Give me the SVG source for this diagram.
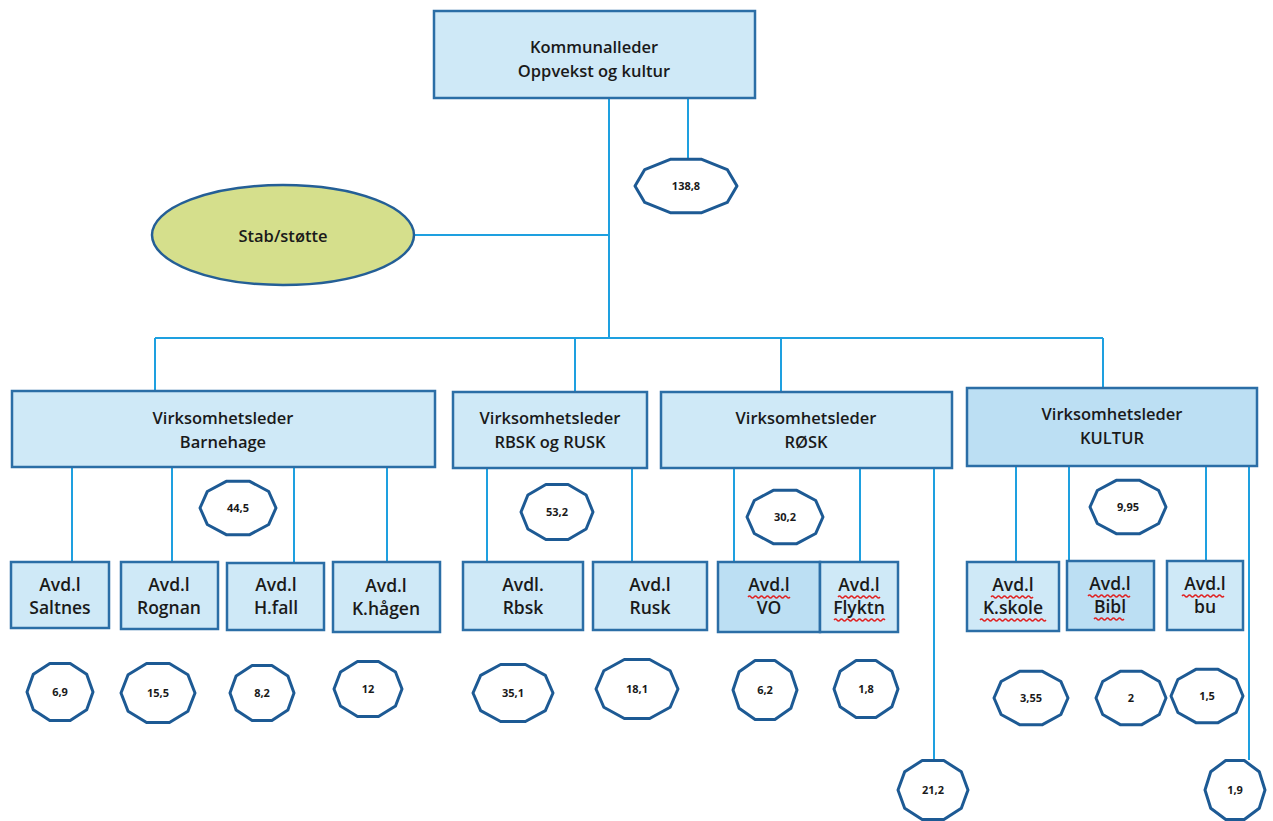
<svg xmlns="http://www.w3.org/2000/svg" xmlns:xlink="http://www.w3.org/1999/xlink" width="1273" height="821" viewBox="0 0 1273 821">
  <style>
    .box { fill: #cfe9f7; stroke: #2b6ea6; stroke-width: 2.5; }
    .box.dark { fill: #bcdff3; }
    .lbl { font-family: "Open Sans", "Liberation Sans", Arial, sans-serif; font-size: 16.5px; font-weight: 600; fill: #1a1a1a; text-anchor: middle; }
    .sub { font-size: 17.5px; }
    .num { font-family: "Open Sans", "Liberation Sans", Arial, sans-serif; font-size: 11px; font-weight: 700; fill: #1a1a1a; text-anchor: middle; }
    .wire { stroke: #1ea0e0; stroke-width: 2; fill: none; }
    .deca { fill: #ffffff; stroke: #1d5a94; stroke-width: 3; vector-effect: non-scaling-stroke; stroke-linejoin: round; }
    .squig { stroke: #e02020; stroke-width: 1.3; fill: none; }
  </style>
  <defs>
    <!-- unit decagon, flat top and bottom, pointed left and right -->
    <polygon id="dec" class="deca" points="1,0 0.809,0.588 0.309,0.951 -0.309,0.951 -0.809,0.588 -1,0 -0.809,-0.588 -0.309,-0.951 0.309,-0.951 0.809,-0.588"/>
  </defs>
  <rect width="1273" height="821" fill="#ffffff"/>

  <!-- connectors -->
  <g id="connectors">
    <path class="wire" d="M609,98 V338"/>
    <path class="wire" d="M688,98 V158"/>
    <path class="wire" d="M414,235 H609"/>
    <path class="wire" d="M155,338 H1103"/>
    <path class="wire" d="M155,338 V391 M575,338 V391 M781,338 V391 M1103,338 V388"/>
    <path class="wire" d="M72,467 V562 M172,467 V562 M294,467 V563 M387,467 V562"/>
    <path class="wire" d="M487,468 V562 M632,468 V562"/>
    <path class="wire" d="M734,468 V562 M860,468 V562 M934,468 V760"/>
    <path class="wire" d="M1016,466 V562 M1069,466 V561 M1206,466 V561 M1249,466 V760"/>
  </g>

  <!-- top manager -->
  <g id="kommunalleder">
    <rect class="box" x="434" y="11" width="321" height="87"/>
    <text class="lbl" x="594" y="53">Kommunalleder</text>
    <text class="lbl" x="594" y="77">Oppvekst og kultur</text>
  </g>
  <g id="n-138">
    <use xlink:href="#dec" transform="translate(686,186) scale(51,28)"/>
    <text class="num" x="686" y="190">138,8</text>
  </g>

  <!-- staff -->
  <g id="stab">
    <ellipse cx="283" cy="235" rx="131" ry="50" fill="#d5df8c" stroke="#245f96" stroke-width="2.5"/>
    <text class="lbl" x="283" y="242" font-size="18">Stab/støtte</text>
  </g>

  <!-- Barnehage -->
  <g id="vl-barnehage">
    <rect class="box" x="12" y="391" width="423" height="76"/>
    <text class="lbl" x="223" y="424">Virksomhetsleder</text>
    <text class="lbl" x="223" y="448">Barnehage</text>
  </g>
  <g id="n-445">
    <use xlink:href="#dec" transform="translate(238,508) scale(38,28)"/>
    <text class="num" x="238" y="512">44,5</text>
  </g>
  <g id="avd-saltnes">
    <rect class="box" x="11" y="562" width="98" height="66"/>
    <text class="lbl sub" x="60" y="591">Avd.l</text>
    <text class="lbl sub" x="60" y="614">Saltnes</text>
  </g>
  <g id="avd-rognan">
    <rect class="box" x="121" y="562" width="97" height="67"/>
    <text class="lbl sub" x="169" y="591">Avd.l</text>
    <text class="lbl sub" x="169" y="614">Rognan</text>
  </g>
  <g id="avd-hfall">
    <rect class="box" x="227" y="563" width="97" height="67"/>
    <text class="lbl sub" x="276" y="591">Avd.l</text>
    <text class="lbl sub" x="276" y="614">H.fall</text>
  </g>
  <g id="avd-khagen">
    <rect class="box" x="333" y="562" width="107" height="70"/>
    <text class="lbl sub" x="386" y="592">Avd.l</text>
    <text class="lbl sub" x="386" y="615">K.hågen</text>
  </g>
  <g id="n-69">
    <use xlink:href="#dec" transform="translate(60,692) scale(33,30)"/>
    <text class="num" x="60" y="696">6,9</text>
  </g>
  <g id="n-155">
    <use xlink:href="#dec" transform="translate(158,693) scale(37,31)"/>
    <text class="num" x="158" y="697">15,5</text>
  </g>
  <g id="n-82">
    <use xlink:href="#dec" transform="translate(262,693) scale(32,29)"/>
    <text class="num" x="262" y="697">8,2</text>
  </g>
  <g id="n-12">
    <use xlink:href="#dec" transform="translate(368,689) scale(34,29)"/>
    <text class="num" x="368" y="693">12</text>
  </g>

  <!-- RBSK og RUSK -->
  <g id="vl-rbsk">
    <rect class="box" x="453" y="392" width="194" height="76"/>
    <text class="lbl" x="550" y="424">Virksomhetsleder</text>
    <text class="lbl" x="550" y="448">RBSK og RUSK</text>
  </g>
  <g id="n-532">
    <use xlink:href="#dec" transform="translate(557,512) scale(36,29)"/>
    <text class="num" x="557" y="516">53,2</text>
  </g>
  <g id="avd-rbsk">
    <rect class="box" x="463" y="562" width="120" height="68"/>
    <text class="lbl sub" x="523" y="591">Avdl.</text>
    <text class="lbl sub" x="523" y="614">Rbsk</text>
  </g>
  <g id="avd-rusk">
    <rect class="box" x="593" y="562" width="114" height="68"/>
    <text class="lbl sub" x="650" y="591">Avd.l</text>
    <text class="lbl sub" x="650" y="614">Rusk</text>
  </g>
  <g id="n-351">
    <use xlink:href="#dec" transform="translate(513,693) scale(40,30)"/>
    <text class="num" x="513" y="697">35,1</text>
  </g>
  <g id="n-181">
    <use xlink:href="#dec" transform="translate(637,689) scale(41,31)"/>
    <text class="num" x="637" y="693">18,1</text>
  </g>

  <!-- RØSK -->
  <g id="vl-rosk">
    <rect class="box" x="661" y="392" width="291" height="76"/>
    <text class="lbl" x="806" y="424">Virksomhetsleder</text>
    <text class="lbl" x="806" y="448">RØSK</text>
  </g>
  <g id="n-302">
    <use xlink:href="#dec" transform="translate(785,517) scale(38,28)"/>
    <text class="num" x="785" y="521">30,2</text>
  </g>
  <g id="avd-vo">
    <rect class="box dark" x="718" y="562" width="102" height="70"/>
    <text class="lbl sub" x="769" y="591">Avd.l</text>
    <text class="lbl sub" x="769" y="614">VO</text>
    <path class="squig" d="M748,597 q1.5,-2 3,0 t3,0 t3,0 t3,0 t3,0 t3,0 t3,0 t3,0 t3,0 t3,0 t3,0 t3,0 t3,0 t3,0"/>
  </g>
  <g id="avd-flyktn">
    <rect class="box" x="820" y="562" width="78" height="70"/>
    <text class="lbl sub" x="859" y="591">Avd.l</text>
    <text class="lbl sub" x="859" y="614">Flyktn</text>
    <path class="squig" d="M838,597 q1.5,-2 3,0 t3,0 t3,0 t3,0 t3,0 t3,0 t3,0 t3,0 t3,0 t3,0 t3,0 t3,0 t3,0 t3,0"/>
    <path class="squig" d="M834,620 q1.5,-2 3,0 t3,0 t3,0 t3,0 t3,0 t3,0 t3,0 t3,0 t3,0 t3,0 t3,0 t3,0 t3,0 t3,0 t3,0 t3,0 t3,0"/>
  </g>
  <g id="n-62">
    <use xlink:href="#dec" transform="translate(765,690) scale(32,31)"/>
    <text class="num" x="765" y="694">6,2</text>
  </g>
  <g id="n-18">
    <use xlink:href="#dec" transform="translate(866,689) scale(32,30)"/>
    <text class="num" x="866" y="693">1,8</text>
  </g>
  <g id="n-212">
    <use xlink:href="#dec" transform="translate(933,790) scale(35,31)"/>
    <text class="num" x="933" y="794">21,2</text>
  </g>

  <!-- KULTUR -->
  <g id="vl-kultur">
    <rect class="box dark" x="967" y="388" width="290" height="78"/>
    <text class="lbl" x="1112" y="420">Virksomhetsleder</text>
    <text class="lbl" x="1112" y="444">KULTUR</text>
  </g>
  <g id="n-995">
    <use xlink:href="#dec" transform="translate(1128,507) scale(38,28)"/>
    <text class="num" x="1128" y="511">9,95</text>
  </g>
  <g id="avd-kskole">
    <rect class="box" x="967" y="562" width="92" height="69"/>
    <text class="lbl sub" x="1013" y="591">Avd.l</text>
    <text class="lbl sub" x="1013" y="614">K.skole</text>
    <path class="squig" d="M991,597 q1.5,-2 3,0 t3,0 t3,0 t3,0 t3,0 t3,0 t3,0 t3,0 t3,0 t3,0 t3,0 t3,0 t3,0 t3,0"/>
    <path class="squig" d="M980,620 q1.5,-2 3,0 t3,0 t3,0 t3,0 t3,0 t3,0 t3,0 t3,0 t3,0 t3,0 t3,0 t3,0 t3,0 t3,0 t3,0 t3,0 t3,0 t3,0 t3,0 t3,0 t3,0 t3,0"/>
  </g>
  <g id="avd-bibl">
    <rect class="box dark" x="1067" y="561" width="87" height="69"/>
    <text class="lbl sub" x="1110" y="590">Avd.l</text>
    <text class="lbl sub" x="1110" y="613">Bibl</text>
    <path class="squig" d="M1088,596 q1.5,-2 3,0 t3,0 t3,0 t3,0 t3,0 t3,0 t3,0 t3,0 t3,0 t3,0 t3,0 t3,0 t3,0 t3,0"/>
    <path class="squig" d="M1094,619 q1.5,-2 3,0 t3,0 t3,0 t3,0 t3,0 t3,0 t3,0 t3,0 t3,0 t3,0"/>
  </g>
  <g id="avd-bu">
    <rect class="box" x="1167" y="561" width="76" height="69"/>
    <text class="lbl sub" x="1205" y="590">Avd.l</text>
    <text class="lbl sub" x="1205" y="613">bu</text>
    <path class="squig" d="M1182,596 q1.5,-2 3,0 t3,0 t3,0 t3,0 t3,0 t3,0 t3,0 t3,0 t3,0 t3,0 t3,0 t3,0 t3,0 t3,0"/>
  </g>
  <g id="n-355">
    <use xlink:href="#dec" transform="translate(1031,698) scale(37,28)"/>
    <text class="num" x="1031" y="702">3,55</text>
  </g>
  <g id="n-2">
    <use xlink:href="#dec" transform="translate(1131,698) scale(35,28)"/>
    <text class="num" x="1131" y="702">2</text>
  </g>
  <g id="n-15">
    <use xlink:href="#dec" transform="translate(1207,696) scale(36,28)"/>
    <text class="num" x="1207" y="700">1,5</text>
  </g>
  <g id="n-19">
    <use xlink:href="#dec" transform="translate(1235,790) scale(30,31)"/>
    <text class="num" x="1235" y="794">1,9</text>
  </g>
</svg>
